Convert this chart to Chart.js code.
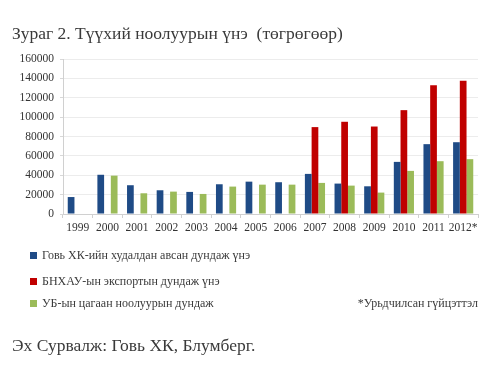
<!DOCTYPE html>
<html>
<head>
<meta charset="utf-8">
<script src="https://cdn.jsdelivr.net/npm/chart.js@4/dist/chart.umd.min.js"></script>
<style>
  html, body { margin: 0; padding: 0; background: #fff; }
  #wrap { position: relative; width: 500px; height: 369px; overflow: hidden; font-family: "Liberation Serif", "DejaVu Serif", serif; color: #3a3a3a; }
  #c { position: absolute; left: 0; top: 0; }
  .t { position: absolute; white-space: nowrap; line-height: 1; }
  #title { left: 12px; top: 25px; font-size: 17.5px; }
  #source { left: 12px; top: 337px; font-size: 17.5px; }
  .leg { position: absolute; left: 30px; font-size: 12px; white-space: nowrap; line-height: 1; }
  .leg i { display: inline-block; width: 7px; height: 7px; margin-right: 5px; vertical-align: 0px; }
  #note { right: 22px; top: 297px; font-size: 12px; }
</style>
</head>
<body>
<div id="wrap">
  <canvas id="c" width="500" height="369"></canvas>
  <div class="t" id="title">Зураг 2. Түүхий ноолуурын үнэ&nbsp;&nbsp;(төгрөгөөр)</div>
  <div id="legend"></div>
  <div class="t" id="note">*Урьдчилсан гүйцэттэл</div>
  <div class="t" id="source">Эх Сурвалж: Говь ХК, Блумберг.</div>
</div>
<script>
const categories = ['1999','2000','2001','2002','2003','2004','2005','2006','2007','2008','2009','2010','2011','2012*'];
const gobiPurchase = [17500, 40500, 29700, 24500, 22800, 30700, 33400, 32800, 41400, 31400, 28600, 53800, 72100, 74100];
const chinaExport  = [null, null, null, null, null, null, null, null, 89700, 95200, 90300, 107200, 132800, 137600];
const ubWhite      = [null, 39600, 21400, 23100, 20700, 28300, 30300, 30300, 32100, 29300, 22100, 44500, 54500, 56600];
const seriesNames = ['Говь ХК-ийн худалдан авсан дундаж үнэ', 'БНХАУ-ын экспортын дундаж үнэ', 'УБ-ын цагаан ноолуурын дундаж'];
const seriesColors = ['#1f4b86', '#c00000', '#9bbb59'];
const yTicks = [0, 20000, 40000, 60000, 80000, 100000, 120000, 140000, 160000];

const datasets = [gobiPurchase, chinaExport, ubWhite].map((d, i) => ({
  label: seriesNames[i], data: d, backgroundColor: seriesColors[i],
  categoryPercentage: 0.68, barPercentage: 1.0, borderWidth: 0
}));

// HTML legend built from dataset names/colours
const legTops = [249, 275, 297];
const legEl = document.getElementById('legend');
seriesNames.forEach((n, i) => {
  const d = document.createElement('div');
  d.className = 'leg';
  d.style.top = legTops[i] + 'px';
  d.innerHTML = '<i style="background:' + seriesColors[i] + '"></i>' + n;
  legEl.appendChild(d);
});

new Chart(document.getElementById('c'), {
  type: 'bar',
  data: { labels: categories, datasets },
  options: {
    responsive: false, animation: false,
    layout: { padding: { left: 0, right: 22, top: 59, bottom: 130 } },
    plugins: { legend: { display: false }, title: { display: false }, tooltip: { enabled: false } },
    scales: {
      x: {
        grid: { drawOnChartArea: false, tickLength: 4, color: '#d0d0d0' },
        border: { color: '#d0d0d0' },
        ticks: { color: '#333', font: { family: 'Liberation Serif', size: 11.5 }, padding: 3, maxRotation: 0, autoSkip: false },
        afterFit: s => { s.height = 25; }
      },
      y: {
        min: 0, max: 160000,
        afterBuildTicks: s => { s.ticks = yTicks.map(v => ({ value: v })); },
        grid: { color: '#ececec', tickLength: 3, tickColor: '#d8d8d8', lineWidth: 1 },
        border: { color: '#d0d0d0' },
        ticks: { color: '#333', font: { family: 'Liberation Serif', size: 11.5 }, padding: 6, callback: v => String(v) },
        afterFit: s => { s.width = 63; }
      }
    }
  }
});
</script>
</body>
</html>
